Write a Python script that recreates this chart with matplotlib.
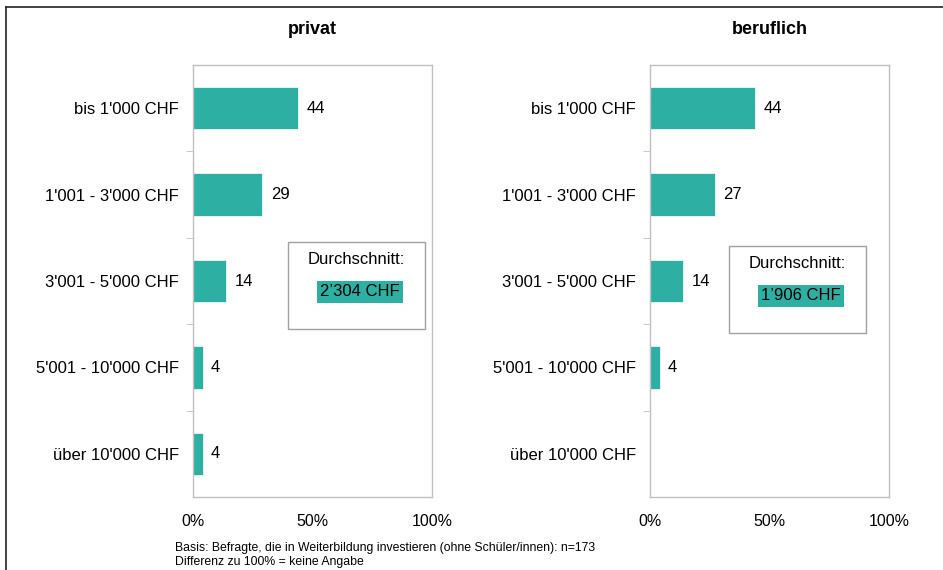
import matplotlib.pyplot as plt
from matplotlib.lines import Line2D

plt.rcParams['font.family'] = ['Liberation Sans', 'DejaVu Sans']

kategorien = ["bis 1'000 CHF", "1'001 - 3'000 CHF", "3'001 - 5'000 CHF",
              "5'001 - 10'000 CHF", "über 10'000 CHF"]
privat = [44, 29, 14, 4, 4]
beruflich = [44, 27, 14, 4, None]
titel = ["privat", "beruflich"]
durchschnitt = ["2’304 CHF", "1’906 CHF"]
x_ticks = [0, 50, 100]
x_labels = ["0%", "50%", "100%"]

farbe = "#2DB0A3"
rahmen = "#c0c0c0"

fig = plt.figure(figsize=(9.43, 5.70), dpi=100)

# Rahmen oben und links
fig.add_artist(Line2D([6/943, 1], [1-7/570, 1-7/570], color="#222222", lw=1.2, transform=fig.transFigure))
fig.add_artist(Line2D([6/943, 6/943], [0, 1-7/570], color="#222222", lw=1.2, transform=fig.transFigure))

positionen = [193/943, 650/943]
boxen = [(288, 242), (729, 246)]

for k, werte in enumerate([privat, beruflich]):
    ax = fig.add_axes([positionen[k], 1-497/570, 239/943, 432/570])
    y = list(range(len(kategorien)))
    for i, w in enumerate(werte):
        if w is None:
            continue
        ax.barh(i, w, height=0.49, color=farbe, edgecolor="white", linewidth=0.5)
        ax.text(w + 3.5, i, str(w), va="center", ha="left", fontsize=12)
    ax.set_xlim(0, 100)
    ax.set_ylim(len(kategorien) - 0.5, -0.5)
    ax.set_yticks(y)
    ax.set_yticklabels(kategorien, fontsize=12)
    ax.tick_params(axis="y", length=0, pad=10)
    ax.set_yticks([i + 0.5 for i in range(len(kategorien) - 1)], minor=True)
    ax.tick_params(axis="y", which="minor", length=5, color=rahmen, direction="out")
    ax.set_xticks(x_ticks)
    ax.set_xticklabels(x_labels, fontsize=11.5)
    ax.tick_params(axis="x", length=0, pad=12)
    for s in ax.spines.values():
        s.set_color(rahmen)
        s.set_linewidth(1)
    ax.set_title(titel[k], fontsize=13, fontweight="bold", pad=22)

    bx, by = boxen[k]
    fig.add_artist(plt.Rectangle((bx/943, 1-(by+87)/570), 137/943, 87/570,
                                 facecolor="white", edgecolor="#a0a0a0", lw=1,
                                 transform=fig.transFigure))
    fig.text((bx+68)/943, 1-(by+18)/570, "Durchschnitt:", ha="center", va="center", fontsize=12)
    fig.text((bx+72)/943, 1-(by+50)/570, durchschnitt[k], ha="center", va="center", fontsize=12,
             bbox=dict(boxstyle="square,pad=0.2", facecolor=farbe, edgecolor="none"))

fig.text(175/943, 1-548/570, "Basis: Befragte, die in Weiterbildung investieren (ohne Schüler/innen): n=173",
         fontsize=8.8, va="center")
fig.text(175/943, 1-562/570, "Differenz zu 100% = keine Angabe", fontsize=8.8, va="center")

fig.savefig("out.png", dpi=100)
